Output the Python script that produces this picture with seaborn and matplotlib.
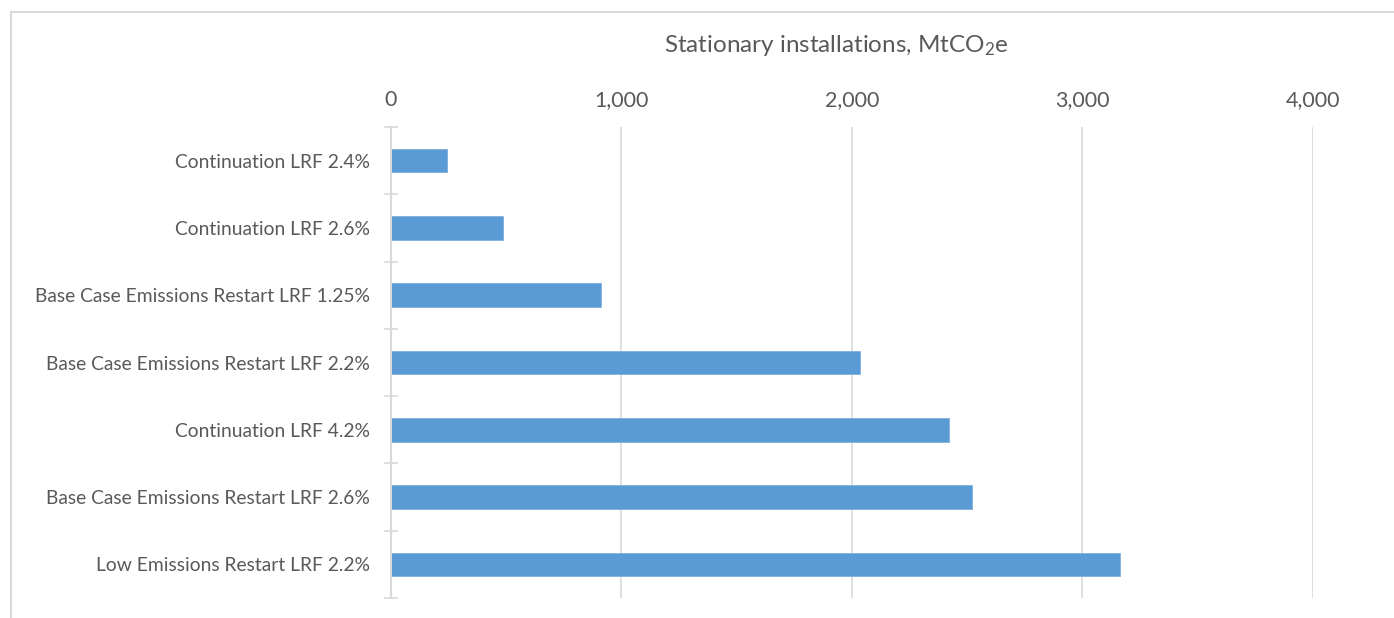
import matplotlib
matplotlib.use("Agg")
import matplotlib.pyplot as plt
import seaborn as sns
import pandas as pd
from matplotlib.patches import Rectangle
from matplotlib.ticker import FuncFormatter, FixedLocator

categories = [
    "Continuation LRF 2.4%",
    "Continuation LRF 2.6%",
    "Base Case Emissions Restart LRF 1.25%",
    "Base Case Emissions Restart LRF 2.2%",
    "Continuation LRF 4.2%",
    "Base Case Emissions Restart LRF 2.6%",
    "Low Emissions Restart LRF 2.2%",
]
values = [242, 485, 911, 2035, 2420, 2520, 3164]
x_ticks = [0, 1000, 2000, 3000, 4000]
title = r"Stationary installations, MtCO$\mathregular{_2}$e"

sns.set_theme(style="white")
FONT = "Lato"
plt.rcParams["font.family"] = [FONT, "DejaVu Sans"]
plt.rcParams["mathtext.fontset"] = "custom"
plt.rcParams["mathtext.rm"] = FONT

TXT = "#595959"
GRID = "#D9D9D9"
BAR = "#5B9BD5"

W, H = 1394, 618
fig = plt.figure(figsize=(W / 100, H / 100), dpi=100)
fig.patch.set_facecolor("white")
ax = fig.add_axes([391 / W, 1 - 598 / H, (1312.7 - 391) / W, (598 - 127) / H])

df = pd.DataFrame({"cat": categories, "val": values})
sns.barplot(data=df, y="cat", x="val", orient="h", color=BAR, width=0.35,
            saturation=1, edgecolor="#7fb0de", linewidth=0.6, ax=ax, zorder=3)

ax.set_xlim(x_ticks[0], x_ticks[-1])
ax.set_ylim(len(categories) - 0.5, -0.5)
ax.set_xticks(x_ticks)
ax.xaxis.set_major_formatter(FuncFormatter(lambda v, p: f"{int(v):,}"))
ax.xaxis.tick_top()
ax.tick_params(axis="x", length=0, pad=12, labelsize=15.5, labelcolor=TXT)
ax.tick_params(axis="y", which="major", length=0, pad=15, labelsize=13.9, labelcolor=TXT)
ax.yaxis.set_minor_locator(FixedLocator([i - 0.5 for i in range(len(categories) + 1)]))
ax.tick_params(axis="y", which="minor", direction="inout", length=10, width=1.2, color=GRID, left=True)
ax.set_xlabel("")
ax.set_ylabel("")
ax.grid(axis="x", color=GRID, linewidth=1.2, zorder=0)
ax.grid(axis="y", visible=False)
ax.set_axisbelow(True)
for s in ["top", "right", "bottom"]:
    ax.spines[s].set_visible(False)
ax.spines["left"].set_color(GRID)
ax.spines["left"].set_linewidth(1.5)
ax.spines["left"].set_zorder(4)

fig.text(836 / W, 1 - 45 / H, title, ha="center", va="center", fontsize=17.5, color=TXT)

fig.patches.append(Rectangle((11 / W, -0.1), 1.2, 1.1 - 12 / H, transform=fig.transFigure,
                             fill=False, edgecolor=GRID, linewidth=1.5))

fig.savefig("out.png", dpi=100, facecolor="white")
